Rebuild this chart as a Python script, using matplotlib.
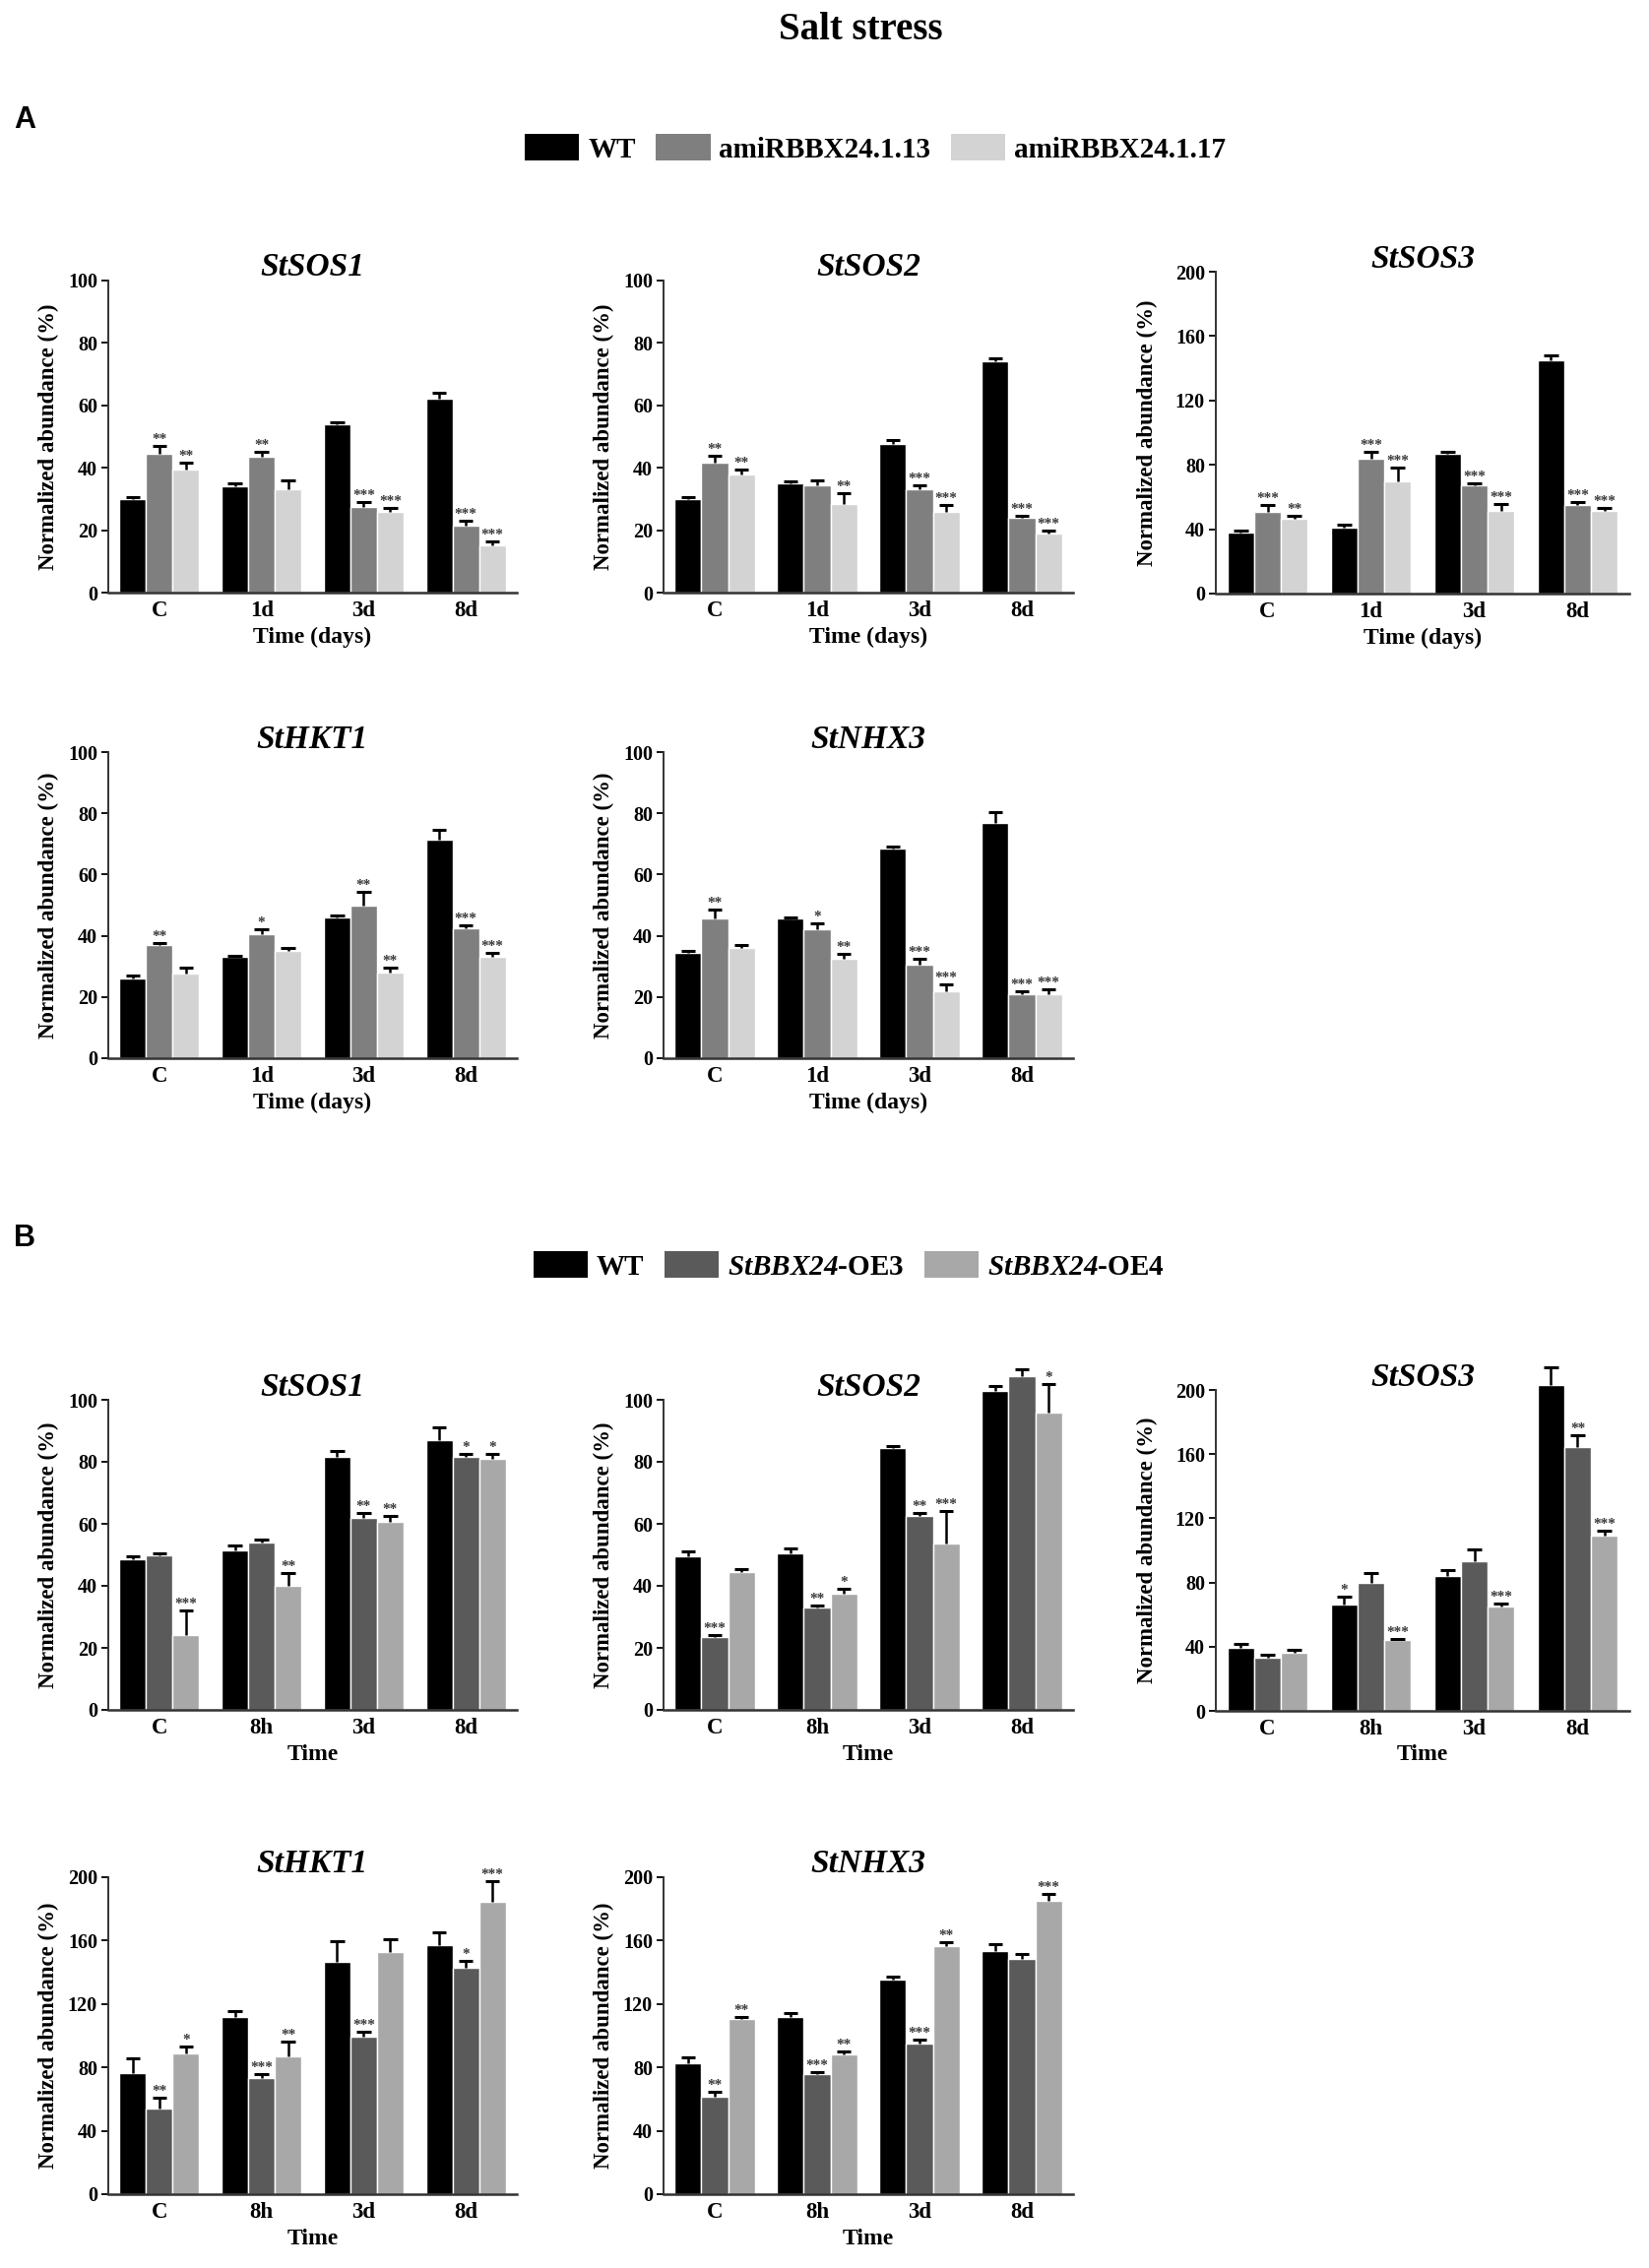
import numpy as np
import matplotlib.pyplot as plt
from matplotlib.patches import Patch

plt.rcParams["font.family"] = ["Liberation Serif", "DejaVu Serif"]
plt.rcParams["font.weight"] = "bold"
plt.rcParams["axes.labelweight"] = "bold"
plt.rcParams["mathtext.fontset"] = "custom"
plt.rcParams["mathtext.it"] = "Liberation Serif:italic:bold"
plt.rcParams["mathtext.rm"] = "Liberation Serif:italic:bold"

W, H = 1675, 2304

times_a = ["C", "1d", "3d", "8d"]
times_b = ["C", "8h", "3d", "8d"]
lines_a = ["WT", "amiRBBX24.1.13", "amiRBBX24.1.17"]
lines_b = ["WT", r"$\mathit{StBBX24}$-OE3", r"$\mathit{StBBX24}$-OE4"]
colors_a = ["#000000", "#7f7f7f", "#d3d3d3"]
colors_b = ["#000000", "#5a5a5a", "#a8a8a8"]

# A: amiRNA lines (WT, 1.13, 1.17)
a_sos1 = [[30, 34, 54, 62], [44.5, 43.5, 27.5, 21.5], [39.5, 33, 26, 15]]
a_sos1_err = [[0.5, 1, 0.5, 2], [2.5, 1.5, 1.5, 1.5], [2, 3, 1, 1.5]]
a_sos1_sig = [["", "", "", ""], ["**", "**", "***", "***"], ["**", "", "***", "***"]]

a_sos2 = [[30, 35, 47.5, 74], [41.5, 34.5, 33, 24], [38, 28.5, 26, 19]]
a_sos2_err = [[0.5, 0.5, 1.5, 1], [2.5, 1.5, 1.5, 0.5], [1.5, 3.5, 2, 1]]
a_sos2_sig = [["", "", "", ""], ["**", "", "***", "***"], ["**", "**", "***", "***"]]

a_sos3 = [[38, 41, 87, 145], [51, 84, 67.5, 55], [46.5, 70, 51.5, 51.5]]
a_sos3_err = [[1, 2, 1, 3], [4, 4, 1, 2], [2, 8, 4, 2]]
a_sos3_sig = [["", "", "", ""], ["***", "***", "***", "***"], ["**", "***", "***", "***"]]

a_hkt1 = [[26, 33, 46, 71.5], [37, 40.5, 50, 42.5], [27.5, 35, 28, 33]]
a_hkt1_err = [[1, 0.5, 0.5, 3], [0.5, 1.5, 4.5, 1], [2, 1, 1.5, 1.5]]
a_hkt1_sig = [["", "", "", ""], ["**", "*", "**", "***"], ["", "", "**", "***"]]

a_nhx3 = [[34.5, 45.5, 68.5, 77], [45.5, 42, 30.5, 21], [36, 32.5, 22, 21]]
a_nhx3_err = [[0.5, 0.5, 0.5, 3.5], [3, 2, 2, 1], [1, 1.5, 2, 1.5]]
a_nhx3_sig = [["", "", "", ""], ["**", "*", "***", "***"], ["", "**", "***", "***"]]

# B: overexpression lines (WT, OE3, OE4)
b_sos1 = [[48.5, 51.5, 81.5, 87], [50, 54, 62, 81.5], [24, 40, 60.5, 81]]
b_sos1_err = [[1, 1.5, 2, 4], [0.5, 1, 1.5, 1], [8, 4, 2, 1.5]]
b_sos1_sig = [["", "", "", ""], ["", "", "**", "*"], ["***", "**", "**", "*"]]

b_sos2 = [[49.5, 50.5, 84.5, 103], [23.5, 33, 62.5, 107.5], [44.5, 37.5, 53.5, 96]]
b_sos2_err = [[1.5, 1.5, 0.5, 1.5], [0.5, 0.8, 1, 2.5], [1, 1.5, 10.5, 9]]
b_sos2_sig = [["", "", "", ""], ["***", "**", "**", ""], ["", "*", "***", "*"]]

b_sos3 = [[39, 66, 84, 203], [33, 80, 93.5, 164.5], [36.5, 44, 65, 109]]
b_sos3_err = [[3, 5, 4, 11], [2, 6, 7, 7], [1.5, 1, 2, 3]]
b_sos3_sig = [["", "*", "", ""], ["", "", "", "**"], ["", "***", "***", "***"]]

b_hkt1 = [[76.5, 112, 146.5, 157], [54, 73.5, 99.5, 143], [89, 87, 153, 184.5]]
b_hkt1_err = [[9.5, 3.5, 13, 8.5], [7, 2.5, 3, 4.5], [4, 9, 8, 13]]
b_hkt1_sig = [["", "", "", ""], ["**", "***", "***", "*"], ["*", "**", "", "***"]]

b_nhx3 = [[82.5, 112, 135.5, 153.5], [61.5, 75.5, 95, 148.5], [110.5, 88, 156.5, 185]]
b_nhx3_err = [[4, 2.5, 1.5, 4], [3, 1.5, 2.5, 3], [1.5, 2, 2.5, 4.5]]
b_nhx3_sig = [["", "", "", ""], ["**", "***", "***", ""], ["**", "**", "**", "***"]]

fig = plt.figure(figsize=(W / 100, H / 100), dpi=100)

cols = [(110, 525), (674, 1090), (1235, 1655)]
ylab_off = [-61, -61, -70]


def panel(col, top, bottom, title, means, errs, sigs, times, colors,
          ymax, step, xlabel, ytop=None):
    x0, x1 = cols[col]
    ytop = ymax if ytop is None else ytop
    ppu = (bottom - top) / ymax
    hpx = ytop * ppu
    ax = fig.add_axes([x0 / W, 1 - bottom / H, (x1 - x0) / W, hpx / H])
    x = np.arange(len(times))
    w = 0.26
    for i in range(len(means)):
        pos = x + (i - 1) * w
        m = np.array(means[i], dtype=float)
        e = np.array(errs[i], dtype=float)
        ax.bar(pos, m, w, color=colors[i], edgecolor="white", linewidth=1, zorder=2)
        # one-sided error bars: stem up from the bar top plus a cap
        ax.vlines(pos, m, m + e, color="black", linewidth=1.8, zorder=3)
        ax.hlines(m + e, pos - w * 0.27, pos + w * 0.27, color="black",
                  linewidth=2.2, zorder=3)
        for px, tp, lab in zip(pos, m + e, sigs[i]):
            if lab:
                ax.annotate(lab, (px, tp), xytext=(0, 0), textcoords="offset points",
                            ha="center", va="bottom", fontsize=11, color="#3a3a3a",
                            zorder=4)
    ax.set_xlim(-0.5, 3.5)
    ax.set_ylim(0, ytop)
    ax.set_yticks(np.arange(0, ymax + 1, step))
    ax.set_xticks(x)
    ax.set_xticklabels(times, fontsize=16.5)
    ax.tick_params(axis="x", length=0, pad=6)
    ax.tick_params(axis="y", labelsize=14.5, length=5, width=1.3, pad=3)
    for s in ["top", "right"]:
        ax.spines[s].set_visible(False)
    ax.spines["left"].set_bounds(0, ymax)
    ax.spines["left"].set_linewidth(1.4)
    ax.spines["bottom"].set_linewidth(1.8)
    ax.spines["left"].set_color("#333333")
    ax.spines["bottom"].set_color("#333333")
    ax.set_ylabel("Normalized abundance (%)", fontsize=16.5, va="center")
    ax.yaxis.set_label_coords(ylab_off[col] / (x1 - x0), (ymax / 2) / ytop)
    ax.set_xlabel(xlabel, fontsize=17, va="center")
    ax.xaxis.set_label_coords(0.5, -45 / hpx)
    fig.text((x0 + x1) / 2 / W, 1 - (top - 13) / H, title, fontsize=24,
             style="italic", weight="bold", ha="center", va="center")
    return ax


fig.text(874 / W, 1 - 31 / H, "Salt stress", fontsize=28, weight="bold",
         ha="center", va="center")
fig.text(14 / W, 1 - 122 / H, "A", fontsize=22, weight="bold",
         family="Liberation Sans", ha="left", va="center")
fig.text(14 / W, 1 - 1258 / H, "B", fontsize=22, weight="bold",
         family="Liberation Sans", ha="left", va="center")

leg_kw = dict(loc="center", ncol=3, frameon=False, fontsize=21, handlelength=1.9,
              handleheight=1.0, handletextpad=0.3, columnspacing=0.7)
fig.legend([Patch(facecolor=c) for c in colors_a], lines_a,
           bbox_to_anchor=(889 / W, 1 - 151 / H), **leg_kw)
fig.legend([Patch(facecolor=c) for c in colors_b], lines_b,
           bbox_to_anchor=(862 / W, 1 - 1286 / H), **leg_kw)

xa = "Time (days)"
panel(0, 285, 602, "StSOS1", a_sos1, a_sos1_err, a_sos1_sig, times_a, colors_a, 100, 20, xa)
panel(1, 285, 602, "StSOS2", a_sos2, a_sos2_err, a_sos2_sig, times_a, colors_a, 100, 20, xa)
panel(2, 276, 603, "StSOS3", a_sos3, a_sos3_err, a_sos3_sig, times_a, colors_a, 200, 40, xa)
panel(0, 764, 1075, "StHKT1", a_hkt1, a_hkt1_err, a_hkt1_sig, times_a, colors_a, 100, 20, xa)
panel(1, 764, 1075, "StNHX3", a_nhx3, a_nhx3_err, a_nhx3_sig, times_a, colors_a, 100, 20, xa)

xb = "Time"
panel(0, 1422, 1737, "StSOS1", b_sos1, b_sos1_err, b_sos1_sig, times_b, colors_b, 100, 20, xb)
panel(1, 1422, 1737, "StSOS2", b_sos2, b_sos2_err, b_sos2_sig, times_b, colors_b, 100, 20, xb, ytop=113)
panel(2, 1412, 1738, "StSOS3", b_sos3, b_sos3_err, b_sos3_sig, times_b, colors_b, 200, 40, xb, ytop=218)
panel(0, 1907, 2229, "StHKT1", b_hkt1, b_hkt1_err, b_hkt1_sig, times_b, colors_b, 200, 40, xb)
panel(1, 1907, 2229, "StNHX3", b_nhx3, b_nhx3_err, b_nhx3_sig, times_b, colors_b, 200, 40, xb)

fig.savefig("out.png", dpi=100)
